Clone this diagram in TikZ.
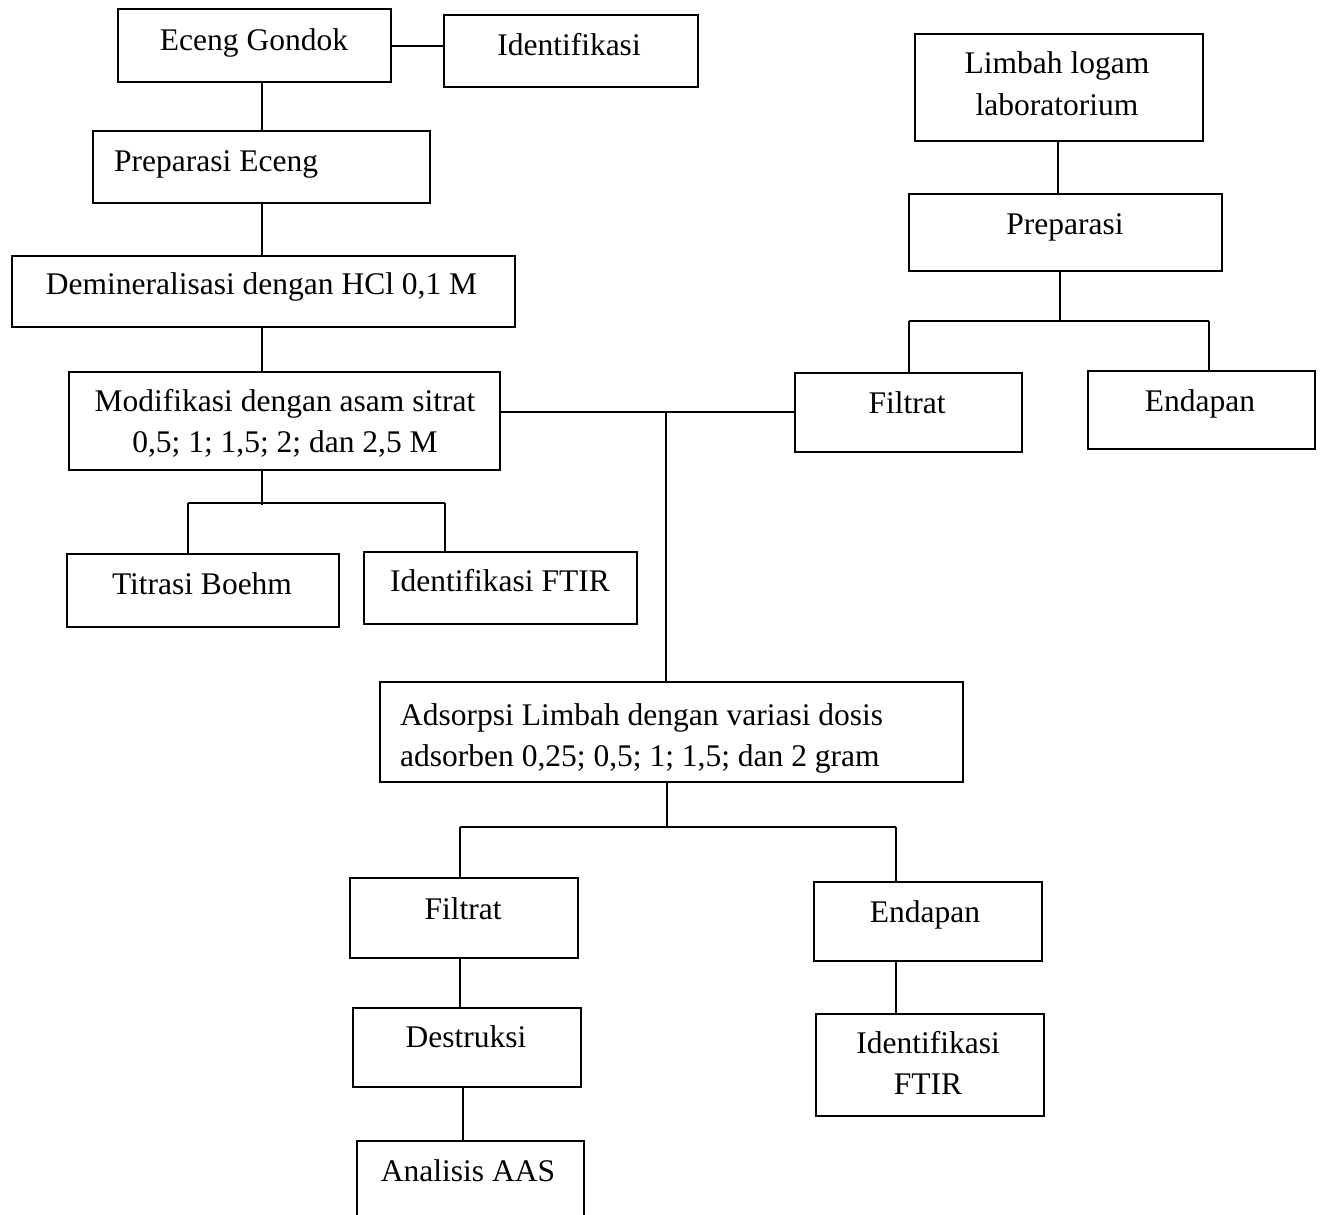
\documentclass[tikz,border=0pt]{standalone}
\usepackage{fontspec}
\setmainfont{Liberation Serif}
\begin{document}
\begin{tikzpicture}[x=1pt,y=-1pt,
  bx/.style={draw,line width=1.6pt,inner sep=0pt,anchor=north west},
  txt/.style={inner sep=0pt,anchor=base,font=\fontsize{31.5}{41.5}\selectfont},
  txtl/.style={txt,anchor=base west},
  ln/.style={line width=1.6pt}]
\useasboundingbox (0,0) rectangle (1320,1215);
% boxes
\node[bx,minimum width=273pt,minimum height=73pt] (eg) at (117,8) {};
\node[bx,minimum width=254pt,minimum height=72pt] (id1) at (443,14) {};
\node[bx,minimum width=337pt,minimum height=72pt] (pe) at (92,130) {};
\node[bx,minimum width=503pt,minimum height=71pt] (dm) at (11,255) {};
\node[bx,minimum width=431pt,minimum height=98pt] (mo) at (68,371) {};
\node[bx,minimum width=272pt,minimum height=73pt] (tb) at (66,553) {};
\node[bx,minimum width=273pt,minimum height=72pt] (if1) at (363,551) {};
\node[bx,minimum width=288pt,minimum height=107pt] (lb) at (914,33) {};
\node[bx,minimum width=313pt,minimum height=77pt] (pr) at (908,193) {};
\node[bx,minimum width=227pt,minimum height=79pt] (fr) at (794,372) {};
\node[bx,minimum width=227pt,minimum height=78pt] (er) at (1087,370) {};
\node[bx,minimum width=583pt,minimum height=100pt] (ad) at (379,681) {};
\node[bx,minimum width=228pt,minimum height=80pt] (fb) at (349,877) {};
\node[bx,minimum width=228pt,minimum height=79pt] (eb) at (813,881) {};
\node[bx,minimum width=228pt,minimum height=79pt] (de) at (352,1007) {};
\node[bx,minimum width=228pt,minimum height=102pt] (ib) at (815,1013) {};
\node[bx,minimum width=227pt,minimum height=120pt] (aa) at (356,1140) {};
% texts
\node[txt] (eg-t) at (254,51) {Eceng Gondok};
\node[txt] (id1-t) at (569,56) {Identifikasi};
\node[txtl] (pe-t) at (114,171) {Preparasi Eceng};
\node[txt] (dm-t) at (261.5,294) {Demineralisasi dengan HCl 0,1 M};
\node[txt] (mo-t) at (285,411) {\begin{tabular}[t]{@{}c@{}}Modifikasi dengan asam sitrat\\0,5; 1; 1,5; 2; dan 2,5 M\end{tabular}};
\node[txt] (tb-t) at (202,594) {Titrasi Boehm};
\node[txt] (if1-t) at (500,591) {Identifikasi FTIR};
\node[txt] (lb-t) at (1057,74) {\begin{tabular}[t]{@{}c@{}}Limbah logam\\laboratorium\end{tabular}};
\node[txt] (pr-t) at (1065,234) {Preparasi};
\node[txt] (fr-t) at (907,413) {Filtrat};
\node[txt] (er-t) at (1200,411) {Endapan};
\node[txtl] (ad-t) at (400,725) {\begin{tabular}[t]{@{}l@{}}Adsorpsi Limbah dengan variasi dosis\\adsorben 0,25; 0,5; 1; 1,5; dan 2 gram\end{tabular}};
\node[txt] (fb-t) at (463,919) {Filtrat};
\node[txt] (eb-t) at (925,922) {Endapan};
\node[txt] (de-t) at (466,1047) {Destruksi};
\node[txt] (ib-t) at (928,1053) {\begin{tabular}[t]{@{}c@{}}Identifikasi\\FTIR\end{tabular}};
\node[txt] (aa-t) at (468,1181) {Analisis AAS};
% connector levels
\coordinate (c1) at (262,0);
\coordinate (y46) at (0,46);
\coordinate (y412) at (0,412);
\coordinate (j1) at (262,505);
\coordinate (j1l) at (188,503);
\coordinate (j1r) at (445,503);
\coordinate (j2) at (666,412);
\coordinate (c1058) at (1058,0);
\coordinate (j3) at (1060,321);
\coordinate (j3l) at (909,321);
\coordinate (j3r) at (1209,321);
\coordinate (j4) at (667,827);
\coordinate (j4l) at (460,827);
\coordinate (j4r) at (896,827);
\coordinate (c460) at (460,0);
\coordinate (c463) at (463,0);
\coordinate (c896) at (896,0);
% connectors
\draw[ln] (eg.east |- y46) -- (id1.west |- y46);
\draw[ln] (eg.south -| c1) -- (pe.north -| c1);
\draw[ln] (pe.south -| c1) -- (dm.north -| c1);
\draw[ln] (dm.south -| c1) -- (mo.north -| c1);
\draw[ln] (mo.south -| c1) -- (j1);
\draw[ln] (j1l) -- (j1r);
\draw[ln] (j1l) -- (tb.north -| j1l);
\draw[ln] (j1r) -- (if1.north -| j1r);
\draw[ln] (mo.east |- y412) -- (fr.west |- y412);
\draw[ln] (j2) -- (ad.north -| j2);
\draw[ln] (lb.south -| c1058) -- (pr.north -| c1058);
\draw[ln] (pr.south -| j3) -- (j3);
\draw[ln] (j3l) -- (j3r);
\draw[ln] (j3l) -- (fr.north -| j3l);
\draw[ln] (j3r) -- (er.north -| j3r);
\draw[ln] (ad.south -| j4) -- (j4);
\draw[ln] (j4l) -- (j4r);
\draw[ln] (j4l) -- (fb.north -| j4l);
\draw[ln] (j4r) -- (eb.north -| j4r);
\draw[ln] (fb.south -| c460) -- (de.north -| c460);
\draw[ln] (de.south -| c463) -- (aa.north -| c463);
\draw[ln] (eb.south -| c896) -- (ib.north -| c896);
\end{tikzpicture}
\end{document}
